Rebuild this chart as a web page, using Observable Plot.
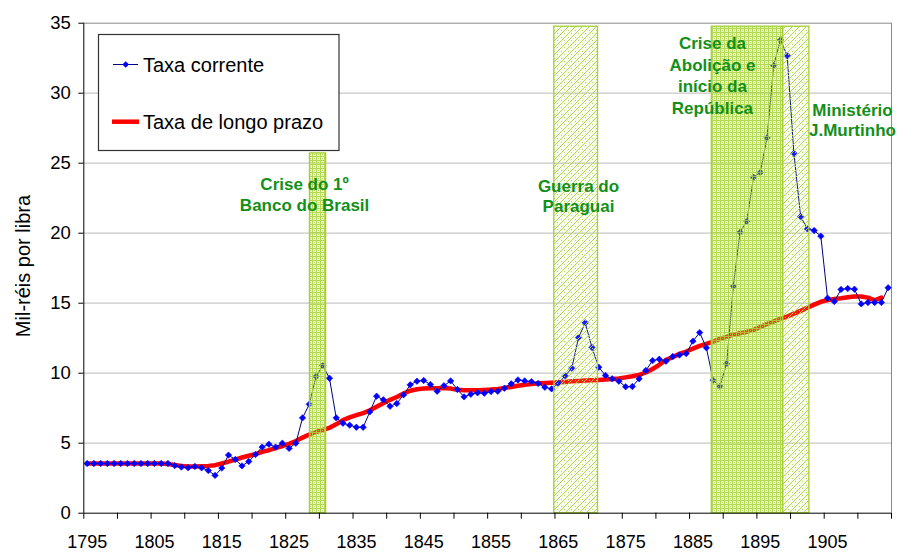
<!DOCTYPE html>
<html>
<head>
<meta charset="utf-8">
<script src="https://cdn.jsdelivr.net/npm/d3@7"></script>
<script src="https://cdn.jsdelivr.net/npm/@observablehq/plot@0.6"></script>
<style>
  body { margin: 0; background: white; }
  #chart svg { display: block; }
</style>
</head>
<body>
<div id="chart"></div>
<script>
// ---- Data ----
const years = d3.range(1795, 1915); // 1795..1914

const taxaCorrente = [
  3.55, 3.55, 3.55, 3.55, 3.55, 3.55, 3.55, 3.55, 3.55, 3.55, // 1795-1804
  3.55, 3.55, 3.55, 3.40, 3.30, 3.25, 3.34, 3.24, 3.05, 2.70, // 1805-1814
  3.22, 4.15, 3.84, 3.38, 3.69, 4.19, 4.72, 4.93, 4.72, 5.00, // 1815-1824
  4.63, 5.00, 6.81, 7.78, 9.76, 10.55, 9.64, 6.81, 6.43, 6.29, // 1825-1834
  6.14, 6.14, 7.24, 8.36, 8.10, 7.64, 7.83, 8.45, 9.17, 9.43, // 1835-1844
  9.48, 9.19, 8.71, 9.10, 9.45, 8.84, 8.31, 8.50, 8.60, 8.57, // 1845-1854
  8.69, 8.71, 8.93, 9.24, 9.52, 9.45, 9.40, 9.27, 9.00, 8.88, // 1855-1864
  9.26, 9.81, 10.36, 12.55, 13.60, 11.84, 10.43, 9.84, 9.60, 9.43, // 1865-1874
  9.03, 9.05, 9.60, 10.19, 10.90, 11.00, 10.86, 11.19, 11.30, 11.40, // 1875-1884
  12.29, 12.90, 11.81, 9.50, 9.06, 10.67, 16.21, 20.07, 20.86, 24.00, // 1885-1894
  24.34, 26.81, 31.98, 33.81, 32.69, 25.71, 21.19, 20.31, 20.19, 19.79, // 1895-1904
  15.36, 15.12, 15.98, 16.05, 16.00, 14.95, 15.05, 15.05, 15.05, 16.10  // 1905-1914
];

const taxaLongoPrazo = [
  3.55, 3.55, 3.55, 3.55, 3.55, 3.55, 3.55, 3.55, 3.55, 3.55, // 1795-1804
  3.55, 3.55, 3.52, 3.45, 3.38, 3.34, 3.33, 3.35, 3.38, 3.43, // 1805-1814
  3.55, 3.68, 3.83, 3.98, 4.10, 4.22, 4.38, 4.50, 4.65, 4.80, // 1815-1824
  4.95, 5.15, 5.40, 5.62, 5.80, 5.95, 6.10, 6.35, 6.65, 6.85, // 1825-1834
  7.00, 7.15, 7.35, 7.60, 7.85, 8.10, 8.30, 8.55, 8.75, 8.85, // 1835-1844
  8.90, 8.92, 8.93, 8.95, 8.90, 8.82, 8.78, 8.78, 8.78, 8.80, // 1845-1854
  8.83, 8.88, 8.95, 9.02, 9.10, 9.18, 9.22, 9.28, 9.30, 9.32, // 1855-1864
  9.35, 9.38, 9.42, 9.45, 9.48, 9.50, 9.52, 9.55, 9.58, 9.62, // 1865-1874
  9.70, 9.78, 9.88, 10.05, 10.30, 10.60, 10.95, 11.15, 11.38, 11.55, // 1875-1884
  11.75, 11.95, 12.10, 12.25, 12.45, 12.60, 12.75, 12.85, 12.95, 13.10, // 1885-1894
  13.30, 13.50, 13.70, 13.88, 14.05, 14.25, 14.45, 14.67, 14.90, 15.10, // 1895-1904
  15.22, 15.30, 15.35, 15.42, 15.48, 15.48, 15.40, 15.20, 15.40        // 1905-1913
];

// Shaded periods
const periodStart = [1828.1, 1864.4, 1887.8, 1898.4];
const periodEnd   = [1830.5, 1870.9, 1898.4, 1902.3];
const periodTop   = [25.7, 34.75, 34.75, 34.75];
const periodHatch = ["cross", "diag", "cross", "diag"];

// Annotations
const annotText = ["Crise do 1º\nBanco do Brasil", "Guerra do\nParaguai", "Crise da\nAbolição e\ninício da\nRepública", "Ministério\nJ.Murtinho"];
const annotYear = [1827.3, 1868.0, 1887.9, 1908.7];
const annotVal  = [24.1, 24.0, 34.27, 29.4];
const annotLH   = [1.2, 1.2, 1.28, 1.2];

const yTicks = [0, 5, 10, 15, 20, 25, 30, 35];
const gridVals = [5, 10, 15, 20, 25, 30];
const xLabelYears = [1795, 1805, 1815, 1825, 1835, 1845, 1855, 1865, 1875, 1885, 1895, 1905];
const xTickMarks = d3.range(1794.5, 1915, 5);

const seriesNames = ["Taxa corrente", "Taxa de longo prazo"];

// ---- Tables ----
const blue = years.map((yr, i) => ({year: yr, v: taxaCorrente[i]}));
const red = taxaLongoPrazo.map((v, i) => ({year: years[i], v}));
const periods = periodStart.map((s, i) => ({x1: s, x2: periodEnd[i], top: periodTop[i], hatch: periodHatch[i]}));
const annots = annotText.map((t, i) => ({t, x: annotYear[i], y: annotVal[i], lh: annotLH[i]}));

const green = "#12901a";
const hatchStroke = "#a6cf34";
const FONT = "'Liberation Sans', Arial, sans-serif";

const annotMarks = annots.map(a => Plot.text([a], {
  x: "x", y: "y", text: "t", textAnchor: "middle", lineAnchor: "top",
  lineHeight: a.lh, fontSize: 17, fontWeight: "bold", fill: green
}));

const chart = Plot.plot({
  width: 897,
  height: 552,
  marginLeft: 83.3,
  marginRight: 6,
  marginTop: 22.7,
  marginBottom: 39.3,
  style: {fontFamily: FONT, background: "white", overflow: "visible"},
  x: {domain: [1794.5, 1914.5]},
  y: {domain: [0, 35]},
  marks: [
    Plot.ruleY(gridVals, {stroke: "#c8c8c8", strokeWidth: 1.2}),
    Plot.ruleY([35], {stroke: "#8a8a8a", strokeWidth: 1}),
    Plot.ruleX([1914.5], {stroke: "#8a8a8a", strokeWidth: 1}),
    Plot.line(red, {x: "year", y: "v", stroke: "#ff0000", strokeWidth: 4.5, strokeLinejoin: "round"}),
    Plot.line(blue, {x: "year", y: "v", stroke: "#000080", strokeWidth: 1}),
    Plot.dot(blue, {x: "year", y: "v", symbol: "diamond2", r: 2.9, fill: "#0000ff", stroke: "#0000ff", strokeWidth: 0.6}),
    Plot.rect(periods.filter(d => d.hatch === "cross"), {x1: "x1", x2: "x2", y1: 0, y2: "top", fill: "url(#hatchCross)", stroke: hatchStroke, strokeWidth: 1.3}),
    Plot.rect(periods.filter(d => d.hatch === "diag"), {x1: "x1", x2: "x2", y1: 0, y2: "top", fill: "url(#hatchDiag)", stroke: hatchStroke, strokeWidth: 1.3}),
    ...annotMarks,
    Plot.axisY({ticks: yTicks, tickSize: 5, tickPadding: 8, fontSize: 18.5, label: null, stroke: "black"}),
    Plot.axisX({ticks: xTickMarks, tickSize: 6, tickFormat: () => "", label: null, stroke: "black"}),
    Plot.axisX({ticks: xLabelYears, tickSize: 0, tickPadding: 22, tickFormat: d => String(d), fontSize: 18, label: null}),
    Plot.ruleX([1794.5], {stroke: "black", strokeWidth: 1}),
    Plot.ruleY([0], {stroke: "black", strokeWidth: 1})
  ]
});

// Patterns
const svg = d3.select(chart);
const defs = svg.insert("defs", ":first-child");
const pc = defs.append("pattern").attr("id", "hatchCross").attr("patternUnits", "userSpaceOnUse")
  .attr("width", 4).attr("height", 4);
pc.append("rect").attr("width", 4).attr("height", 4).attr("fill", "rgba(190,225,90,0.35)");
pc.append("path").attr("d", "M0,0.5H4M0.5,0V4").attr("stroke", "#a9d23c").attr("stroke-width", 1).attr("opacity", 0.85);
pc.append("rect").attr("x", 2).attr("y", 2).attr("width", 1).attr("height", 1).attr("fill", "#a9d23c").attr("opacity", 0.7);

const pd = defs.append("pattern").attr("id", "hatchDiag").attr("patternUnits", "userSpaceOnUse")
  .attr("width", 7).attr("height", 7);
pd.append("rect").attr("width", 7).attr("height", 7).attr("fill", "rgba(200,230,120,0.12)");
pd.append("path").attr("d", "M0,7L7,0M-1,1L1,-1M6,8L8,6").attr("stroke", "#b3d94c").attr("stroke-width", 1);
pd.append("rect").attr("x", 1).attr("y", 2).attr("width", 1).attr("height", 1).attr("fill", "#b8dc5a");
pd.append("rect").attr("x", 4).attr("y", 5).attr("width", 1).attr("height", 1).attr("fill", "#b8dc5a");

// Y axis title
svg.append("text")
  .attr("transform", "translate(30,266) rotate(-90)")
  .attr("text-anchor", "middle")
  .attr("font-family", FONT)
  .attr("font-size", 20)
  .attr("fill", "black")
  .text("Mil-réis por libra");

// Legend
const lg = svg.append("g").attr("font-family", FONT).attr("text-anchor", "start");
lg.append("rect").attr("x", 98.5).attr("y", 34.5).attr("width", 240.5).attr("height", 116)
  .attr("fill", "white").attr("stroke", "#333").attr("stroke-width", 1.2);
lg.append("line").attr("x1", 113).attr("x2", 138).attr("y1", 64.5).attr("y2", 64.5)
  .attr("stroke", "#000080").attr("stroke-width", 1);
lg.append("path").attr("d", "M125.7,61.2L129,64.5L125.7,67.8L122.4,64.5Z").attr("fill", "#0000ff");
lg.append("text").attr("x", 143).attr("y", 71.7).attr("font-size", 20).attr("fill", "black")
  .attr("text-anchor", "start").text(seriesNames[0]);
lg.append("line").attr("x1", 112).attr("x2", 139).attr("y1", 121.7).attr("y2", 121.7)
  .attr("stroke", "#ff0000").attr("stroke-width", 4.5);
lg.append("text").attr("x", 143).attr("y", 129.3).attr("font-size", 20).attr("fill", "black")
  .attr("text-anchor", "start").text(seriesNames[1]);

document.getElementById("chart").appendChild(chart);
</script>
</body>
</html>
